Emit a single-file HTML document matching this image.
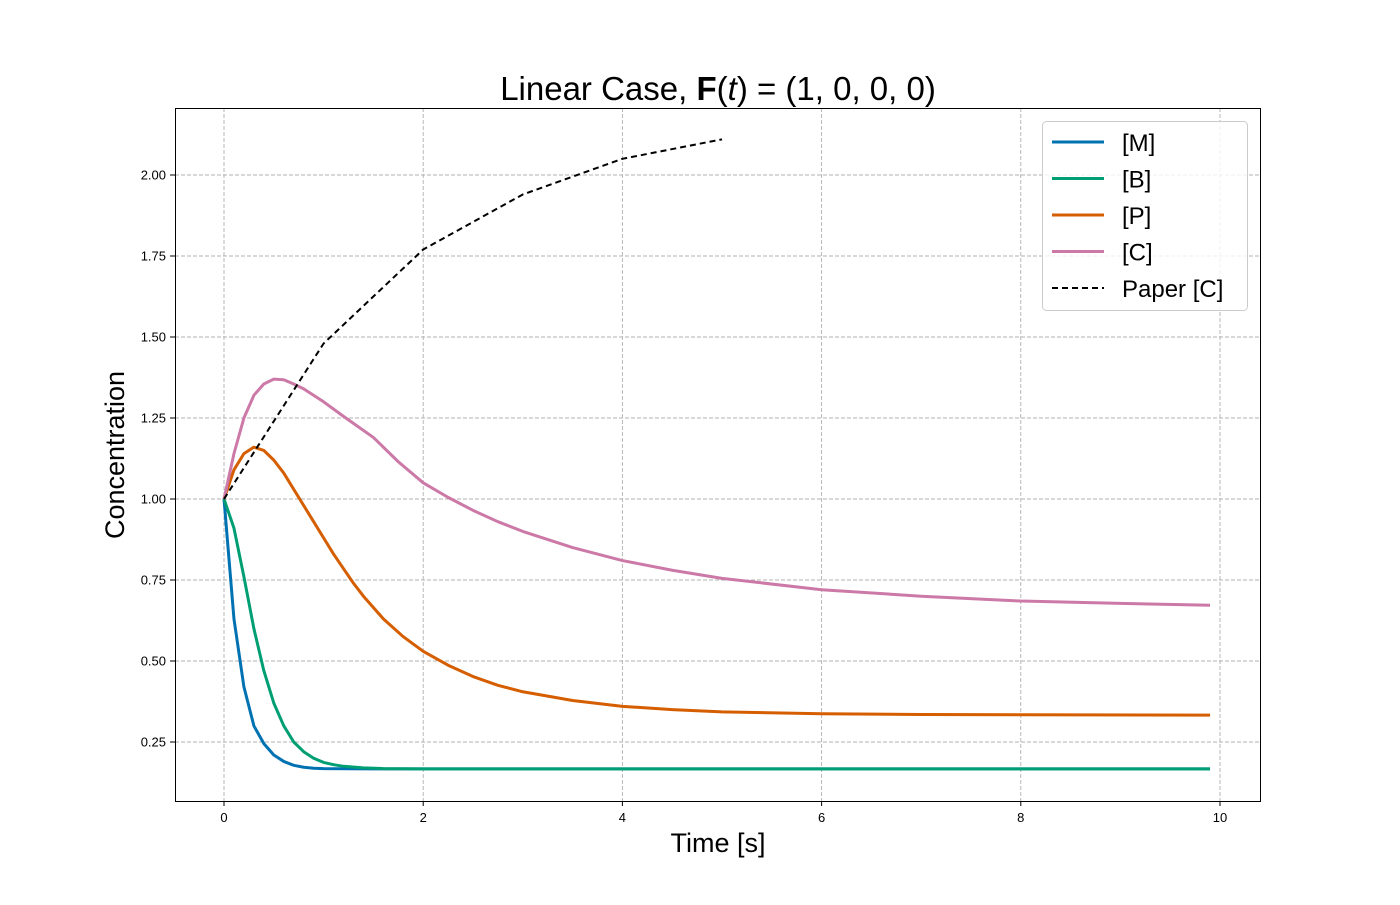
<!DOCTYPE html>
<html><head><meta charset="utf-8"><style>
html,body{margin:0;padding:0;background:#fff}
svg text{font-family:"Liberation Sans","DejaVu Sans",sans-serif}
</style></head><body>
<svg id="chart" width="1400" height="900" xmlns="http://www.w3.org/2000/svg">
<rect width="1400" height="900" fill="#fff"/>
<g id="grid"></g>
<g id="series"></g>
<rect x="175.5" y="108.5" width="1085" height="693" fill="none" stroke="#000" stroke-width="1"/>
<g id="ticks"></g>
<text x="718" y="100" font-size="33" text-anchor="middle">Linear Case, <tspan font-weight="bold">F</tspan>(<tspan font-style="italic">t</tspan>) = (1, 0, 0, 0)</text>
<text x="718" y="852" font-size="27" text-anchor="middle">Time [s]</text>
<text transform="translate(124,455) rotate(-90)" font-size="27" text-anchor="middle">Concentration</text>
<g id="legend">
<rect x="1042.5" y="121.5" width="205" height="189" rx="4" fill="#fff" fill-opacity="0.8" stroke="#ccc"/>
</g>
</svg>
<script>
const tM=[0,0.1,0.2,0.3,0.4,0.5,0.6,0.7,0.8,0.9,1.0,1.5,9.9];
const vM=[1,0.63,0.42,0.30,0.245,0.21,0.19,0.178,0.172,0.169,0.168,0.167,0.167];
const tB=[0,0.1,0.2,0.3,0.4,0.5,0.6,0.7,0.8,0.9,1.0,1.1,1.2,1.4,1.6,2,9.9];
const vB=[1,0.91,0.76,0.60,0.47,0.37,0.30,0.25,0.22,0.20,0.187,0.18,0.175,0.17,0.168,0.167,0.167];
const tP=[0,0.1,0.2,0.3,0.4,0.5,0.6,0.7,0.8,0.9,1.0,1.1,1.2,1.3,1.4,1.6,1.8,2.0,2.25,2.5,2.75,3,3.5,4,4.5,5,6,7,8,9.9];
const vP=[1,1.09,1.14,1.16,1.15,1.12,1.08,1.03,0.98,0.93,0.88,0.83,0.785,0.74,0.70,0.63,0.575,0.53,0.487,0.452,0.425,0.405,0.378,0.36,0.35,0.343,0.337,0.335,0.334,0.333];
const tC=[0,0.1,0.2,0.3,0.4,0.5,0.6,0.7,0.8,1.0,1.2,1.5,1.75,2,2.25,2.5,2.75,3,3.5,4,4.5,5,6,7,8,9,9.9];
const vC=[1,1.14,1.25,1.32,1.355,1.37,1.368,1.355,1.34,1.30,1.255,1.19,1.115,1.05,1.005,0.965,0.93,0.90,0.85,0.81,0.78,0.755,0.72,0.70,0.685,0.678,0.672];
const tPaper=[0,1,2,3,4,5];
const vPaper=[1,1.48,1.77,1.94,2.05,2.11];
const xTicks=[0,2,4,6,8,10];
const yTicks=[0.25,0.5,0.75,1.0,1.25,1.5,1.75,2.0];
const seriesNames=["[M]","[B]","[P]","[C]","Paper [C]"];
const NS="http://www.w3.org/2000/svg";
const X=t=>224+t*99.6;
const Y=v=>499-(v-1)*324;
function mk(tag,at,parent){const e=document.createElementNS(NS,tag);for(const k in at)e.setAttribute(k,at[k]);parent.appendChild(e);return e;}
const grid=document.getElementById('grid'),ticks=document.getElementById('ticks'),ser=document.getElementById('series'),leg=document.getElementById('legend');
xTicks.forEach(t=>{
 const g=mk('line',{x1:X(t),x2:X(t),y1:108,y2:801,stroke:'#b0b0b0','stroke-dasharray':'4,2','stroke-width':0.9},grid);
 
 mk('line',{x1:X(t),x2:X(t),y1:801,y2:806,stroke:'#000'},ticks);
 const l=mk('text',{x:X(t),y:822,'font-size':13,'text-anchor':'middle'},ticks);l.textContent=t;
 
});
yTicks.forEach(v=>{
 const g=mk('line',{x1:175,x2:1260,y1:Y(v),y2:Y(v),stroke:'#b0b0b0','stroke-dasharray':'4,2','stroke-width':0.9},grid);
 
 mk('line',{x1:170,x2:175,y1:Y(v),y2:Y(v),stroke:'#000'},ticks);
 const l=mk('text',{x:166,y:Y(v)+4.5,'font-size':13,'text-anchor':'end'},ticks);l.textContent=v.toFixed(2);
 
});
const data=[[tM,vM,'#0072b2',3,null],[tB,vB,'#009e73',3,null],[tP,vP,'#d55e00',3,null],[tC,vC,'#cc79a7',3,null],[tPaper,vPaper,'#000',2,'6,4']];
const names=['series-m','series-b','series-p','series-c','series-paper-c'];
data.forEach((d,i)=>{
 const pts=d[0].map((t,j)=>X(t)+','+Y(d[1][j])).join(' ');
 const at={points:pts,fill:'none',stroke:d[2],'stroke-width':d[3],'stroke-linejoin':'round'};
 if(d[4])at['stroke-dasharray']=d[4];
 const p=mk('polyline',at,ser);
 
 const y=142+i*36.5;
 const at2={x1:1052,x2:1104,y1:y,y2:y,stroke:d[2],'stroke-width':d[3]};
 if(d[4])at2['stroke-dasharray']=d[4];
 mk('line',at2,leg);
 const tx=mk('text',{x:1122,y:y+9,'font-size':24},leg);tx.textContent=seriesNames[i];
 
});
</script>
</body></html>
